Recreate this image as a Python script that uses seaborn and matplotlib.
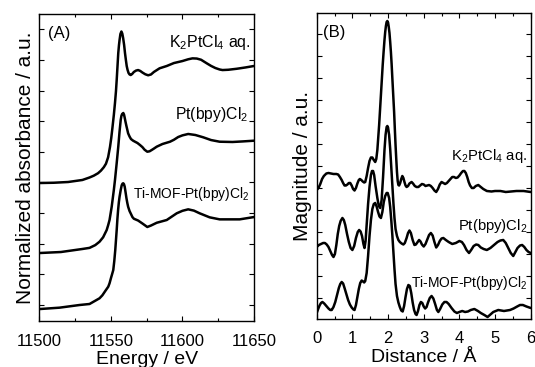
import numpy as np
import pandas as pd
import matplotlib
matplotlib.use("Agg")
import matplotlib.pyplot as plt
import seaborn as sns
from matplotlib.ticker import MultipleLocator, FixedLocator, NullFormatter

# ---- (A) XANES, normalized absorbance (curves already offset) ----
e_k2 = [11500, 11510, 11520, 11530, 11535, 11538, 11541, 11543, 11545, 11546.5,
        11548, 11549.3, 11550.2, 11551, 11552, 11552.8, 11553.5, 11554, 11554.6, 11555.1,
        11555.6, 11556, 11556.6, 11557.3, 11557.9, 11558.5, 11559.2, 11559.8, 11560.4, 11561,
        11561.6, 11562.3, 11563, 11563.8, 11564.8, 11566, 11567.5, 11569, 11570.5, 11572,
        11574, 11576, 11578, 11580, 11584, 11589, 11594, 11600, 11604, 11607,
        11610, 11613, 11617, 11620, 11623, 11626, 11628, 11632, 11638, 11644, 11650]
a_k2 = [1.500, 1.503, 1.511, 1.533, 1.560, 1.580, 1.607, 1.635, 1.672, 1.710,
        1.780, 1.891, 1.990, 2.098, 2.240, 2.370, 2.500, 2.620, 2.780, 2.913,
        3.000, 3.054, 3.120, 3.147, 3.125, 3.076, 3.000, 2.913, 2.840, 2.772,
        2.730, 2.696, 2.680, 2.674, 2.685, 2.707, 2.722, 2.728, 2.718, 2.701,
        2.682, 2.671, 2.680, 2.707, 2.747, 2.772, 2.804, 2.826, 2.845, 2.855,
        2.853, 2.840, 2.801, 2.773, 2.750, 2.734, 2.728, 2.731, 2.742, 2.756, 2.772]

e_bpy = [11500, 11515, 11530, 11535, 11539, 11542, 11544.5, 11547, 11548, 11549,
         11550.5, 11552, 11552.8, 11554, 11555.1, 11556, 11556.8, 11557.3, 11557.8, 11558.6,
         11559.1, 11559.5, 11560.1, 11560.8, 11561.4, 11562, 11563, 11564, 11565.5, 11566.8,
         11568.5, 11570.3, 11572, 11573.5, 11575.4, 11577, 11578.5, 11580, 11582, 11586,
         11591.3, 11594, 11597, 11600, 11604, 11609, 11614.5, 11620, 11626, 11635,
         11642, 11650]
a_bpy = [0.739, 0.750, 0.783, 0.795, 0.825, 0.862, 0.910, 0.989, 1.040, 1.098,
         1.242, 1.424, 1.533, 1.717, 1.895, 2.060, 2.185, 2.230, 2.250, 2.261,
         2.245, 2.217, 2.170, 2.120, 2.080, 2.040, 2.005, 1.978, 1.960, 1.949,
         1.935, 1.913, 1.890, 1.862, 1.840, 1.845, 1.859, 1.874, 1.895, 1.924,
         1.949, 1.970, 2.000, 2.018, 2.033, 2.022, 1.997, 1.967, 1.949, 1.946,
         1.952, 1.960]

e_mof = [11500, 11514, 11528, 11535, 11542, 11544, 11546, 11548.1, 11549, 11550,
         11550.8, 11551.6, 11552.3, 11553, 11554, 11554.5, 11555, 11555.5, 11556, 11556.8,
         11557.5, 11558.1, 11558.6, 11559.1, 11559.6, 11560.2, 11560.8, 11561.4, 11562, 11563,
         11564, 11565, 11566, 11569, 11572, 11575.4, 11578, 11582, 11589, 11596,
         11600, 11604, 11608, 11612, 11619, 11626, 11640, 11650]
a_mof = [0.130, 0.145, 0.174, 0.185, 0.247, 0.280, 0.326, 0.373, 0.410, 0.467,
         0.510, 0.554, 0.650, 0.772, 0.989, 1.110, 1.210, 1.290, 1.350, 1.424,
         1.475, 1.494, 1.497, 1.487, 1.460, 1.400, 1.337, 1.285, 1.242, 1.195,
         1.163, 1.130, 1.112, 1.092, 1.060, 1.022, 1.038, 1.068, 1.098, 1.171,
         1.198, 1.214, 1.200, 1.171, 1.127, 1.105, 1.105, 1.130]

# ---- (B) FT-EXAFS magnitude (curves already offset) ----
r_k2 = [0.00, 0.05, 0.10, 0.15, 0.20, 0.27, 0.33, 0.40, 0.47, 0.55,
        0.60, 0.65, 0.70, 0.74, 0.78, 0.82, 0.86, 0.90, 0.94, 0.98,
        1.02, 1.06, 1.10, 1.14, 1.18, 1.21, 1.25, 1.29, 1.33, 1.36,
        1.40, 1.44, 1.48, 1.52, 1.56, 1.60, 1.64, 1.67, 1.70, 1.72,
        1.75, 1.775, 1.80, 1.825, 1.85, 1.875, 1.90, 1.92, 1.94, 1.96,
        1.98, 2.00, 2.02, 2.04, 2.06, 2.08, 2.10, 2.12, 2.145, 2.17,
        2.19, 2.21, 2.23, 2.25, 2.27, 2.29, 2.31, 2.34, 2.37, 2.40,
        2.43, 2.46, 2.49, 2.52, 2.56, 2.60, 2.66, 2.70, 2.75, 2.80,
        2.85, 2.90, 2.95, 3.00, 3.05, 3.10, 3.15, 3.20, 3.25, 3.30,
        3.35, 3.40, 3.45, 3.50, 3.55, 3.60, 3.65, 3.70, 3.75, 3.80,
        3.85, 3.90, 3.95, 4.00, 4.05, 4.10, 4.14, 4.18, 4.22, 4.26,
        4.30, 4.35, 4.40, 4.46, 4.53, 4.60, 4.67, 4.77, 4.90, 5.00,
        5.15, 5.30, 5.45, 5.60, 5.80, 6.00]
m_k2 = [1.29, 1.31, 1.35, 1.40, 1.43, 1.455, 1.46, 1.455, 1.45, 1.45,
        1.445, 1.42, 1.39, 1.36, 1.335, 1.335, 1.345, 1.36, 1.36, 1.335,
        1.30, 1.285, 1.31, 1.355, 1.39, 1.40, 1.39, 1.375, 1.365, 1.37,
        1.43, 1.51, 1.58, 1.615, 1.615, 1.59, 1.57, 1.60, 1.69, 1.79,
        1.94, 2.09, 2.24, 2.39, 2.54, 2.67, 2.79, 2.87, 2.93, 2.97,
        2.98, 2.965, 2.92, 2.86, 2.77, 2.67, 2.55, 2.41, 2.24, 2.07,
        1.90, 1.74, 1.60, 1.47, 1.38, 1.34, 1.335, 1.36, 1.40, 1.43,
        1.41, 1.37, 1.335, 1.32, 1.33, 1.355, 1.37, 1.355, 1.33, 1.32,
        1.32, 1.335, 1.35, 1.345, 1.33, 1.335, 1.34, 1.33, 1.31, 1.285,
        1.27, 1.30, 1.345, 1.37, 1.36, 1.35, 1.36, 1.38, 1.40, 1.42,
        1.42, 1.41, 1.415, 1.435, 1.46, 1.48, 1.48, 1.46, 1.42, 1.37,
        1.335, 1.31, 1.31, 1.33, 1.34, 1.32, 1.30, 1.28, 1.275, 1.28,
        1.28, 1.27, 1.275, 1.28, 1.28, 1.27]

r_bpy = [0.00, 0.06, 0.12, 0.18, 0.23, 0.28, 0.33, 0.38, 0.43, 0.47,
         0.51, 0.55, 0.59, 0.63, 0.67, 0.72, 0.76, 0.80, 0.85, 0.90,
         0.95, 1.00, 1.05, 1.10, 1.15, 1.19, 1.23, 1.27, 1.31, 1.34,
         1.37, 1.40, 1.44, 1.48, 1.52, 1.55, 1.58, 1.61, 1.65, 1.70,
         1.74, 1.78, 1.82, 1.86, 1.90, 1.93, 1.96, 1.98, 2.00, 2.03,
         2.06, 2.09, 2.12, 2.15, 2.18, 2.21, 2.25, 2.29, 2.33, 2.38,
         2.43, 2.47, 2.52, 2.56, 2.60, 2.64, 2.69, 2.74, 2.78, 2.83,
         2.87, 2.91, 2.95, 3.00, 3.05, 3.10, 3.15, 3.20, 3.25, 3.30,
         3.35, 3.40, 3.45, 3.50, 3.55, 3.62, 3.70, 3.80, 3.90, 4.00,
         4.07, 4.13, 4.20, 4.27, 4.33, 4.40, 4.47, 4.53, 4.60, 4.68,
         4.77, 4.87, 4.97, 5.07, 5.15, 5.23, 5.30, 5.37, 5.44, 5.51,
         5.57, 5.63, 5.70, 5.76, 5.82, 5.88, 5.94, 6.00]
m_bpy = [0.72, 0.74, 0.75, 0.76, 0.76, 0.745, 0.72, 0.68, 0.64, 0.62,
         0.65, 0.74, 0.85, 0.93, 0.98, 1.01, 0.99, 0.94, 0.85, 0.77,
         0.71, 0.69, 0.73, 0.81, 0.87, 0.89, 0.875, 0.83, 0.75, 0.71,
         0.78, 0.94, 1.15, 1.32, 1.44, 1.48, 1.48, 1.44, 1.33, 1.21,
         1.13, 1.11, 1.19, 1.42, 1.69, 1.84, 1.92, 1.93, 1.915, 1.84,
         1.70, 1.52, 1.34, 1.16, 1.01, 0.90, 0.83, 0.79, 0.77, 0.755,
         0.745, 0.76, 0.81, 0.86, 0.885, 0.86, 0.79, 0.74, 0.745, 0.77,
         0.79, 0.775, 0.745, 0.725, 0.75, 0.795, 0.84, 0.86, 0.835, 0.77,
         0.715, 0.74, 0.78, 0.805, 0.81, 0.79, 0.77, 0.75, 0.76, 0.78,
         0.77, 0.74, 0.69, 0.66, 0.69, 0.73, 0.745, 0.74, 0.715, 0.70,
         0.69, 0.71, 0.74, 0.77, 0.785, 0.79, 0.76, 0.71, 0.66, 0.63,
         0.67, 0.71, 0.735, 0.74, 0.72, 0.69, 0.67, 0.66]

r_mof = [0.00, 0.04, 0.08, 0.12, 0.16, 0.21, 0.27, 0.33, 0.38, 0.42,
         0.47, 0.52, 0.57, 0.62, 0.66, 0.70, 0.74, 0.78, 0.83, 0.88,
         0.93, 0.98, 1.03, 1.06, 1.10, 1.14, 1.18, 1.22, 1.26, 1.30,
         1.33, 1.36, 1.40, 1.44, 1.48, 1.52, 1.56, 1.60, 1.64, 1.68,
         1.72, 1.76, 1.80, 1.84, 1.88, 1.92, 1.96, 1.99, 2.03, 2.06,
         2.09, 2.12, 2.15, 2.18, 2.21, 2.25, 2.29, 2.33, 2.37, 2.41,
         2.45, 2.49, 2.53, 2.57, 2.61, 2.65, 2.69, 2.73, 2.77, 2.80,
         2.84, 2.88, 2.92, 2.96, 3.00, 3.04, 3.08, 3.12, 3.17, 3.22,
         3.27, 3.32, 3.37, 3.41, 3.46, 3.52, 3.58, 3.64, 3.70, 3.78,
         3.86, 3.93, 4.00, 4.08, 4.16, 4.24, 4.32, 4.42, 4.52, 4.60,
         4.70, 4.79, 4.87, 4.95, 5.09, 5.25, 5.42, 5.52, 5.62, 5.70,
         5.78, 5.88, 6.00]
m_mof = [0.06, 0.10, 0.135, 0.16, 0.17, 0.155, 0.13, 0.105, 0.09, 0.09,
         0.12, 0.17, 0.24, 0.31, 0.35, 0.37, 0.355, 0.31, 0.25, 0.19,
         0.145, 0.115, 0.095, 0.09, 0.14, 0.22, 0.30, 0.36, 0.385, 0.375,
         0.365, 0.38, 0.46, 0.63, 0.83, 0.99, 1.10, 1.15, 1.16, 1.125,
         1.07, 1.025, 1.01, 1.07, 1.17, 1.23, 1.26, 1.26, 1.21, 1.12,
         0.99, 0.84, 0.67, 0.50, 0.35, 0.23, 0.165, 0.12, 0.085, 0.075,
         0.13, 0.22, 0.30, 0.34, 0.33, 0.26, 0.165, 0.09, 0.05, 0.04,
         0.08, 0.14, 0.17, 0.16, 0.125, 0.105, 0.12, 0.165, 0.21, 0.23,
         0.205, 0.15, 0.09, 0.07, 0.10, 0.145, 0.17, 0.17, 0.15, 0.11,
         0.075, 0.06, 0.07, 0.08, 0.07, 0.075, 0.09, 0.10, 0.08, 0.06,
         0.04, 0.02, 0.045, 0.07, 0.09, 0.08, 0.09, 0.105, 0.125, 0.14,
         0.14, 0.125, 0.11]

labels = ["K$_2$PtCl$_4$ aq.", "Pt(bpy)Cl$_2$", "Ti-MOF-Pt(bpy)Cl$_2$"]

sns.set_theme(style="ticks")
plt.rcParams['font.family'] = ['Liberation Sans', 'DejaVu Sans']
plt.rcParams['mathtext.fontset'] = 'custom'
plt.rcParams['mathtext.rm'] = 'Liberation Sans'
plt.rcParams['mathtext.it'] = 'Liberation Sans'
plt.rcParams['text.color'] = 'black'
plt.rcParams['axes.labelcolor'] = 'black'

fig = plt.figure(figsize=(5.35, 3.67), dpi=100)
ax1 = fig.add_axes([0.0738, 0.1253, 0.4009, 0.8365])
ax2 = fig.add_axes([0.592, 0.1308, 0.400, 0.8346])

for x, y in [(e_k2, a_k2), (e_bpy, a_bpy), (e_mof, a_mof)]:
    sns.lineplot(x=x, y=y, ax=ax1, color="black", lw=1.8, sort=False)
for x, y in [(r_k2, m_k2), (r_bpy, m_bpy), (r_mof, m_mof)]:
    sns.lineplot(x=x, y=y, ax=ax2, color="black", lw=1.8, sort=False)

ax1.set_xlim(11500, 11650)
ax1.set_ylim(0, 3.337)
ax1.xaxis.set_major_locator(MultipleLocator(50))
ax1.xaxis.set_minor_locator(MultipleLocator(25))
ax1.yaxis.set_major_locator(FixedLocator(np.arange(0.174, 3.3, 0.333)))
ax1.set_xlabel("Energy / eV", fontsize=14, labelpad=2)
ax1.set_ylabel("Normalized absorbance / a.u.", fontsize=15)
ax1.yaxis.set_label_coords(-0.02, 0.5)

ax2.set_xlim(0, 6)
ax2.set_ylim(0, 3.063)
ax2.xaxis.set_major_locator(MultipleLocator(1))
ax2.xaxis.set_minor_locator(MultipleLocator(0.5))
ax2.yaxis.set_major_locator(FixedLocator(np.arange(0.213, 3.05, 0.22)))
ax2.set_xlabel("Distance / Å", fontsize=14, labelpad=2)
ax2.set_ylabel("Magnitude / a.u.", fontsize=15)
ax2.yaxis.set_label_coords(-0.022, 0.5)

for ax in (ax1, ax2):
    ax.yaxis.set_major_formatter(NullFormatter())
    ax.tick_params(direction="in", top=True, right=True, which="both",
                   width=0.8, colors="black", labelsize=12, pad=9)
    ax.tick_params(which="major", length=3.6)
    ax.tick_params(which="minor", length=2.2)
    for s in ax.spines.values():
        s.set_linewidth(1.0)
        s.set_color("black")

ax1.text(0.040, 0.923, "(A)", transform=ax1.transAxes, fontsize=12)
ax1.text(0.985, 0.891, labels[0], transform=ax1.transAxes, fontsize=11.5, ha="right")
ax1.text(0.973, 0.658, labels[1], transform=ax1.transAxes, fontsize=11.3, ha="right")
ax1.text(0.981, 0.400, labels[2], transform=ax1.transAxes, fontsize=10, ha="right")

ax2.text(0.031, 0.920, "(B)", transform=ax2.transAxes, fontsize=12)
ax2.text(0.984, 0.519, labels[0], transform=ax2.transAxes, fontsize=10.7, ha="right")
ax2.text(0.984, 0.291, labels[1], transform=ax2.transAxes, fontsize=10.7, ha="right")
ax2.text(0.984, 0.105, labels[2], transform=ax2.transAxes, fontsize=10, ha="right")

fig.savefig("out.png", dpi=100)
